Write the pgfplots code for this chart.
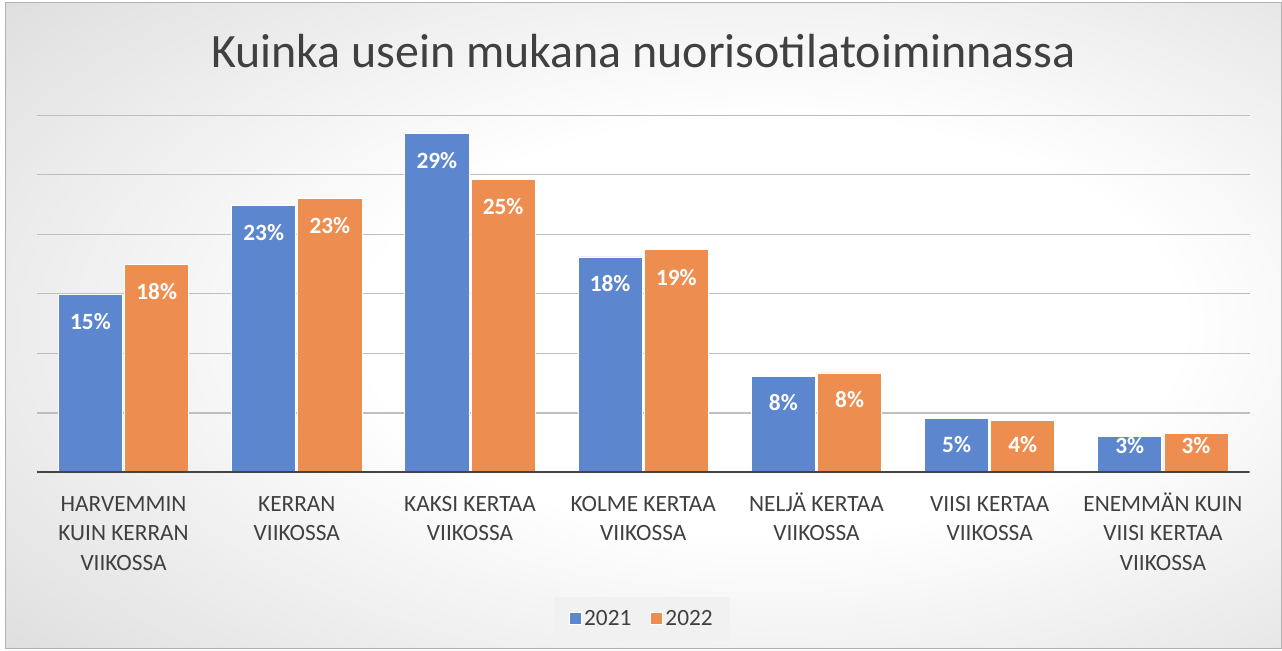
\documentclass[border=0pt]{standalone}
\usepackage{pgfplots}
\pgfplotsset{compat=1.18}
\usepackage{pgfplotstable}
\usepackage{fontspec}
\setmainfont{Carlito}
\definecolor{bblue}{RGB}{92,134,205}
\definecolor{borange}{RGB}{238,141,80}
\definecolor{bggray}{RGB}{194,194,194}
\definecolor{txt}{RGB}{64,64,64}
\definecolor{gridc}{RGB}{191,191,191}
\definecolor{basec}{RGB}{68,68,68}
\definecolor{legbg}{RGB}{241,241,241}
\pgfdeclareradialshading{bgshade}{\pgfpoint{6bp}{0bp}}{color(0bp)=(white); color(16bp)=(white); color(58bp)=(bggray); color(100bp)=(bggray)}

\pgfplotstableread{
x y lab off
0 14.96 15 -26.25
1 22.45 23 -26.25
2 28.5 29 -26.25
3 18.1 18 -26.25
4 8.1 8 -26
5 4.53 5 -25.5
6 3.02 3 -12.75
}\dataA
\pgfplotstableread{
x y lab off
0 17.5 18 -26.25
1 23.04 23 -26.25
2 24.6 25 -26.25
3 18.7 19 -26.5
4 8.36 8 -26.25
5 4.33 4 -23.7
6 3.27 3 -15
}\dataB

\begin{document}
\begin{tikzpicture}
\fill[white] (-27.75pt,-134pt) rectangle (933.75pt,354.75pt);
\shade[shading=bgshade, draw=gray!60, line width=0.75pt] (-23.25pt,-132.5pt) rectangle (934.5pt,352.5pt);
\begin{axis}[
  at={(0,0)}, anchor=south west,
  scale only axis, width=910.5pt, height=268.2pt,
  xmin=-0.5, xmax=6.5, ymin=0, ymax=30,
  ybar=1.6pt, bar width=0.37,
  axis line style={draw=none},
  ytick={5,10,...,30}, yticklabels={},
  ymajorgrids, grid style={gridc, line width=0.9pt},
  major tick length=0pt,
  xtick={0,...,6},
  xticklabels={{\strut HARVEMMIN\\KUIN KERRAN\\VIIKOSSA},{\strut KERRAN\\VIIKOSSA},{\strut KAKSI KERTAA\\VIIKOSSA},{\strut KOLME KERTAA\\VIIKOSSA},{\strut NELJÄ KERTAA\\VIIKOSSA},{\strut VIISI KERTAA\\VIIKOSSA},{\strut ENEMMÄN KUIN\\VIISI KERTAA\\VIIKOSSA}},
  xticklabel style={align=center, font=\fontsize{17.5}{21.9}\selectfont, text=txt, inner sep=0pt, anchor=north, yshift=-14pt},
  title={Kuinka usein mukana nuorisotilatoiminnassa},
  title style={at={(0.5,1.112)}, anchor=base, font=\fontsize{36}{43}\selectfont, text=txt},
  point meta=explicit,
  /pgf/number format/assume math mode=true,
  visualization depends on={\thisrow{off} \as \myoff},
  nodes near coords={\pgfmathprintnumber[fixed,precision=0,assume math mode=true]{\pgfplotspointmeta}\%},
  nodes near coords style={anchor=base, yshift=\myoff*1pt, text=white, font=\bfseries\fontsize{17.5}{21}\selectfont},
  legend columns=2,
  legend style={at={(0.499,-0.41)}, anchor=center, draw=none, fill=legbg, text=txt, font=\fontsize{17.5}{21}\selectfont, inner xsep=11pt, inner ysep=8pt, /tikz/every even column/.append style={column sep=12pt}},
  legend image code/.code={\fill[#1] (0pt,-4.5pt) rectangle (9pt,4.5pt);},
]
\addplot[fill=bblue, draw=white, line width=0.6pt] table[x=x, y=y, meta=lab] {\dataA};
\addplot[fill=borange, draw=white, line width=0.6pt] table[x=x, y=y, meta=lab] {\dataB};
\legend{2021,2022}
\draw[basec, line width=2.4pt] (axis cs:-0.5,0) -- (axis cs:6.5,0);
\end{axis}
\end{tikzpicture}
\end{document}
